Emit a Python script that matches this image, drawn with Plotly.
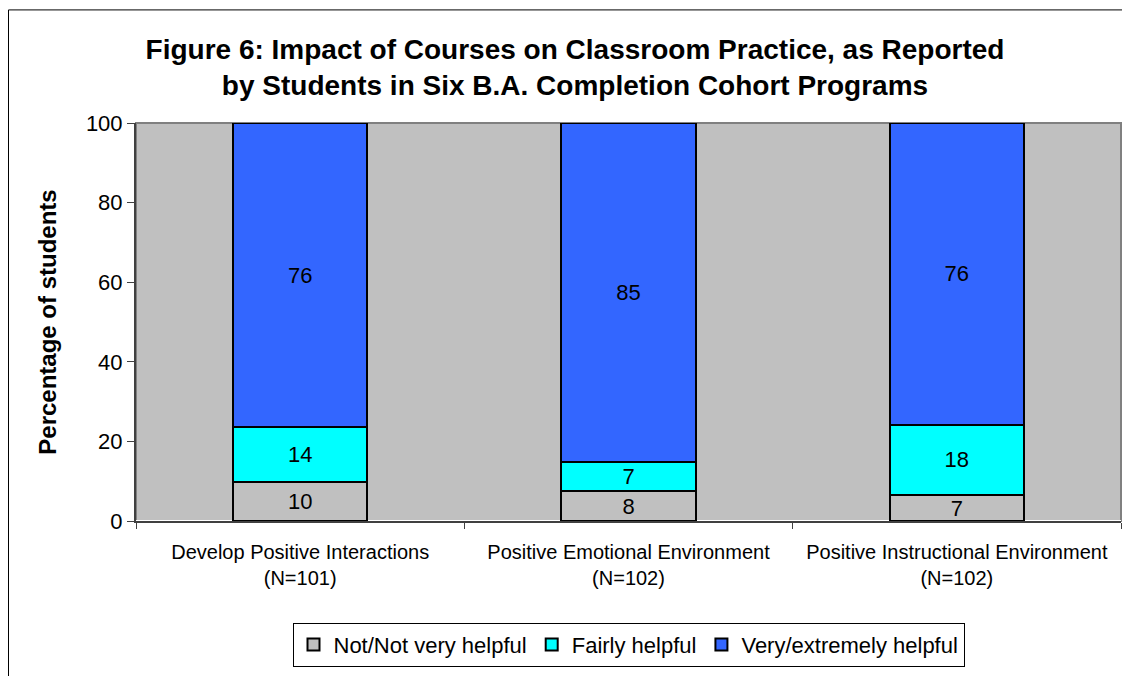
import plotly.graph_objects as go

# Categorias e valores (percentual de estudantes)
categories = ["Develop Positive Interactions<br>(N=101)",
              "Positive Emotional Environment<br>(N=102)",
              "Positive Instructional Environment<br>(N=102)"]
not_helpful = [9.8, 7.5, 6.5]
fairly_helpful = [13.8, 7.25, 17.7]
very_helpful = [76.4, 85.25, 75.8]
not_labels = ["10", "8", "7"]
fairly_labels = ["14", "7", "18"]
very_labels = ["76", "85", "76"]

series = [
    ("Not/Not very helpful", not_helpful, not_labels, "#C0C0C0"),
    ("Fairly helpful", fairly_helpful, fairly_labels, "#00FFFF"),
    ("Very/extremely helpful", very_helpful, very_labels, "#3366FF"),
]

# A página tem margem de 8px no body, então a figura começa em (8, 8)
W, H = 1122, 668
L, R, T, B = 128, 9, 115, 150
PW, PH = W - L - R, H - T - B

fig = go.Figure()
for name, vals, labels, color in series:
    fig.add_trace(go.Bar(
        x=categories, y=vals, name=name,
        text=labels, textposition="inside", insidetextanchor="middle",
        textangle=0, textfont=dict(size=22, color="black"),
        marker=dict(color=color, line=dict(color="black", width=2)),
        width=0.41,
    ))

fig.update_layout(
    barmode="stack",
    width=W, height=H,
    margin=dict(l=L, r=R, t=T, b=B),
    paper_bgcolor="white",
    plot_bgcolor="#C0C0C0",
    font=dict(family="Liberation Sans, Arial", color="black"),
    title=dict(
        text="<b>Figure 6: Impact of Courses on Classroom Practice, as Reported<br>by Students in Six B.A. Completion Cohort Programs</b>",
        x=(567 - L) / PW, xref="paper", xanchor="center",
        y=1 - 51 / H, yref="container", yanchor="middle",
        font=dict(size=28, color="black"),
    ),
    uniformtext=dict(minsize=22, mode="show"),
    legend=dict(
        orientation="h", x=0.5, xanchor="center", y=-(621 - 518) / PH, yanchor="top",
        bordercolor="black", borderwidth=1, font=dict(size=22),
        itemwidth=30, traceorder="normal",
    ),
    showlegend=True,
)

fig.update_yaxes(
    range=[0, 100], dtick=20, showgrid=False,
    showline=True, linecolor="#404040", linewidth=2,
    ticks="outside", ticklen=7, tickcolor="#404040",
    tickfont=dict(size=22),
    title=dict(text="<b>Percentage of students</b>", font=dict(size=24), standoff=22),
)
fig.update_xaxes(
    showgrid=False, showline=True, linecolor="#404040", linewidth=2,
    ticks="outside", tickson="boundaries", ticklen=6, tickcolor="#404040",
    tickfont=dict(size=20), ticklabelstandoff=12,
)

# Borda cinza da área de plotagem
fig.add_shape(type="rect", xref="paper", yref="paper", x0=0, x1=1, y0=0, y1=1,
              line=dict(color="#808080", width=2), layer="below")
# Moldura externa (apenas esquerda e topo visíveis)
fx = (0.5 - L) / PW
fy = (T - 0.5) / PH + 1
fig.add_shape(type="line", xref="paper", yref="paper",
              x0=fx, x1=fx, y0=fy, y1=-0.5,
              line=dict(color="black", width=1))
fig.add_shape(type="line", xref="paper", yref="paper",
              x0=fx, x1=1.1, y0=fy, y1=fy,
              line=dict(color="black", width=1))

fig.write_html("out.html")
